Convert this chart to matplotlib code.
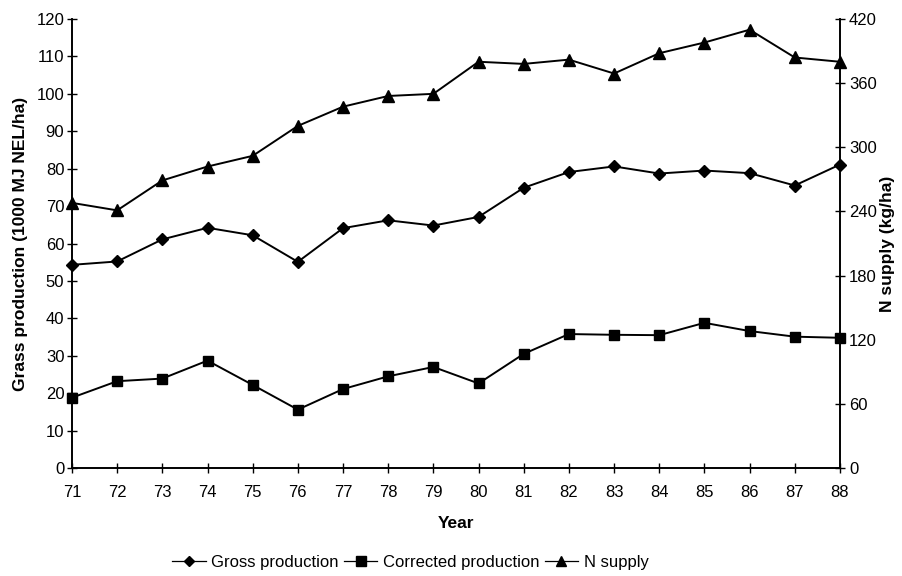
import matplotlib
matplotlib.use("Agg")
import matplotlib.pyplot as plt
from matplotlib.lines import Line2D

plt.rcParams['font.family'] = ['Liberation Sans', 'DejaVu Sans']

years = list(range(71, 89))
year_labels = [str(y) for y in years]
gross = [54.3, 55.2, 61.1, 64.2, 62.2, 55.1, 64.1, 66.2, 64.8, 67.1,
         74.9, 79.1, 80.6, 78.7, 79.5, 78.8, 75.5, 81.1]
corrected = [18.8, 23.2, 23.9, 28.7, 22.2, 15.6, 21.1, 24.5, 27.0, 22.6,
             30.5, 35.8, 35.6, 35.5, 38.8, 36.6, 35.1, 34.8]
n_supply = [248, 241, 269, 282, 292, 320, 338, 348, 350, 380,
            378, 382, 369, 388, 398, 410, 384, 380]
left_ticks = list(range(0, 121, 10))
right_ticks = list(range(0, 421, 60))
series_names = ['Gross production', 'Corrected production', 'N supply']

fig = plt.figure(figsize=(9.02, 5.76), dpi=100)
ax = fig.add_axes([0.0798, 0.1875, 0.8514, 0.7795])
ax2 = ax.twinx()

ax.plot(years, gross, color='black', lw=1.4, marker='D', ms=6.5, clip_on=False)
ax.plot(years, corrected, color='black', lw=1.4, marker='s', ms=7, clip_on=False)
ax2.plot(years, n_supply, color='black', lw=1.4, marker='^', ms=8, clip_on=False)

ax.set_xlim(71, 88)
ax.set_ylim(0, 120)
ax2.set_ylim(0, 420)
ax.set_xticks(years)
ax.set_xticklabels(year_labels)
ax.set_yticks(left_ticks)
ax2.set_yticks(right_ticks)

for a in (ax, ax2):
    a.spines['top'].set_visible(False)
    for s in a.spines.values():
        s.set_linewidth(1.2)
    a.tick_params(direction='inout', length=7, width=1, labelsize=12, colors='black')
ax.tick_params(axis='y', pad=2)
ax2.tick_params(axis='y', pad=3)
ax.tick_params(axis='x', pad=9)

ax.set_ylabel('Grass production (1000 MJ NEL/ha)', fontsize=12.5, fontweight='bold', labelpad=6)
ax2.set_ylabel('N supply (kg/ha)', fontsize=12.5, fontweight='bold', rotation=90, labelpad=2)
ax.set_xlabel('Year', fontsize=12.5, fontweight='bold', labelpad=11)

handles = [Line2D([], [], color='black', lw=0.9, marker=m, ms=s)
           for m, s in (('D', 5.5), ('s', 6.5), ('^', 7))]
fig.legend(handles, series_names,
           loc='center', bbox_to_anchor=(0.455, 0.023), ncol=3, frameon=False,
           fontsize=12, handlelength=2.0, handletextpad=0.35, columnspacing=0.3)

fig.savefig('out.png', dpi=100)
